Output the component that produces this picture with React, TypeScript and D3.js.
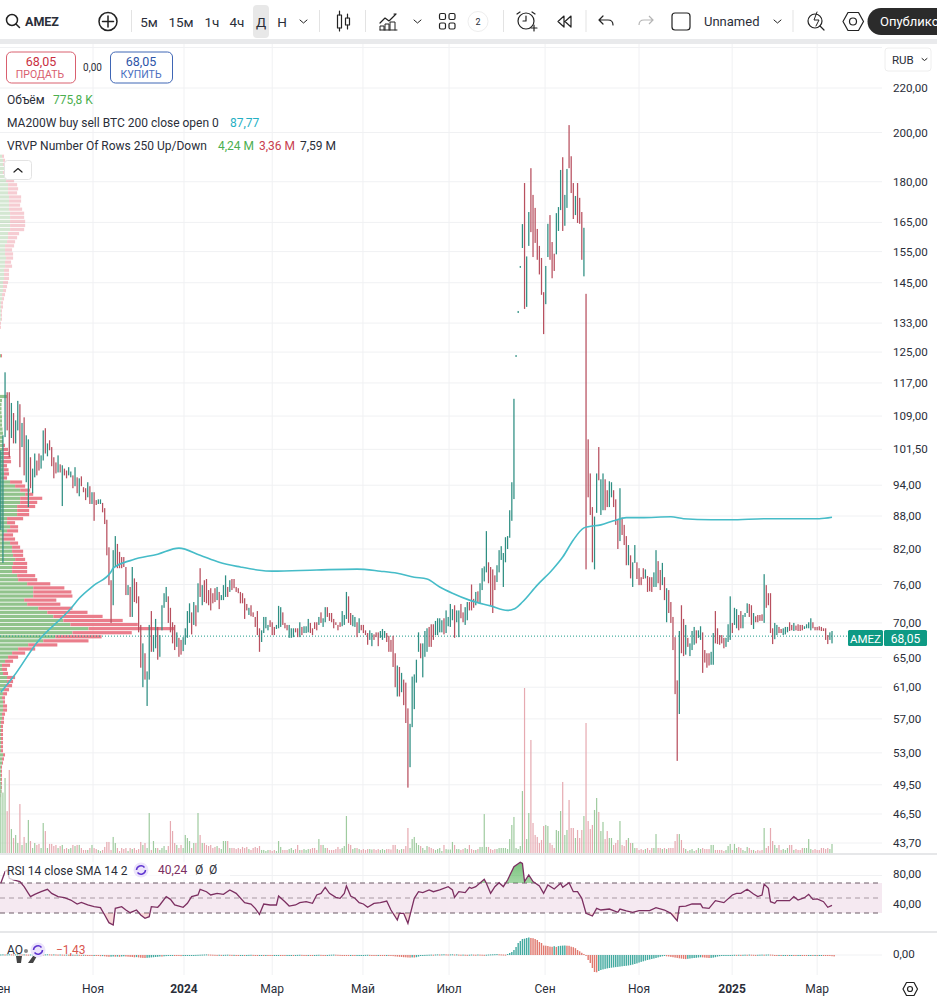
import React from "react";
import * as d3 from "d3";

// ---- price bars (RUB), one entry per trading day ----
const highs = [
101.3,104.6,119.7,114.7,114.7,112.1,109.7,108,112.6,111.8,
107.4,108.7,104.6,103.7,99.8,97.4,100.6,99.1,100.6,100.2,
105.7,106.2,102.8,103.5,102,99.8,98.7,100.2,98.3,98.1,
97.4,97,97.7,96.8,96,97.7,95.6,95.4,95.8,93.6,
93.4,94.6,93.8,92.6,92.6,91.05,91.2,91.2,90.5,89.5,
87.3,82.3,76.7,81.8,84.3,82.9,81.5,80.6,80.6,78.9,
75.9,75.6,78.9,77,76.4,74.1,69.7,67,65.6,63.1,
69.7,71.8,68.2,70.6,69.4,68.2,72.7,74.6,75.6,74.1,
72.3,70.1,69.7,68.6,67.8,67.5,67.9,69.2,71.8,73,
71.6,73.2,72.7,76.2,78.7,75.9,76.7,76.9,75.1,75.4,
74.6,75.4,75.6,74.8,74.3,75.9,77.5,75.6,76.7,76.9,
76.9,75.6,75.4,74.8,74.6,73.8,72.9,72.3,72.7,71.6,
70.9,71.8,69.2,68.9,70.9,70.9,69.7,70.4,70.1,69.4,
69.7,72.6,72.4,71.6,70,69.7,69.7,69.2,69.2,69.2,
69.2,70.1,69.4,69.5,69.5,70.6,70,69.2,70.1,70.1,
70.9,71.6,70.7,72.4,72.4,71.5,71.5,70.6,70.1,69.7,
70.1,71.8,71.2,74.8,74.1,71.5,71.2,70.9,70.1,70.7,
69.7,69.7,68.9,68.5,68.9,68.5,68.3,68.6,68.6,68.8,
69.1,68.8,68.5,68.1,67.5,68.1,65.6,63.9,63.7,62.9,
62,61.6,58.3,56.4,62.4,62.7,64.7,68.6,67,67,
68.8,69.2,69.4,69.8,69.8,70.3,70.7,70.7,70.4,70.7,71.9,
70.9,72.9,72.1,72.7,71.9,71.9,72.9,71.6,72.4,73.2,
73.2,76,73.7,74.8,74.9,76.2,78.7,79,85.2,79.7,
78.9,78.5,77.5,79.2,81.8,82.5,81.3,84.1,84.3,89.1,
94.6,113.1,124.2,136.5,150.3,164.4,179.5,153.4,168.7,185.3,
175,170.2,162.7,156.9,152.9,142.1,150.3,164.5,167.6,158.2,
154.3,168.3,170.5,184.6,189.7,175,185,203.2,190.1,179.5,
174.6,179.5,173.9,168.7,163.1,141.6,103.7,96.4,89.7,
87.9,96.4,102,95.2,96.4,95.2,93,94.8,94.6,93,
91.2,87.3,93.4,87.7,86.35,84.3,82.7,80.9,79.7,82.7,
79.7,78.7,77.2,78.7,78.5,77.4,77.2,77.2,78,81.8,
79.9,78.4,79.6,77.2,75.4,75.1,73.2,70.9,67.9,
61.9,68.8,72.7,70.6,69.7,67.8,67,68.8,69.4,68.9,
68.9,69.5,68.6,66.05,65.6,65.6,65.8,68.5,71.8,69.2,
68.2,68.2,67.8,67.8,69.8,74.1,70,72.3,72.1,71.2,
71.8,71.2,71.5,73,72.9,72.7,71.5,71,71.2,71.2,
71.3,77.7,75.9,74.6,74.6,69.2,70,69.7,69.4,69.1,
69.2,69.4,69.4,70.1,69.7,70,69.6,69.8,69.7,69.7,69.5,
69.8,70.1,70.7,70.1,69.4,69.4,69.5,69.4,69.2,69.2,
68.2,68.6,68.8];
const lows = [
85.4,79.6,104.2,105.7,99.8,104,102.8,102.8,105.7,97.7,
102,96,94.6,89.7,93.4,92.4,95.6,96,97,97.4,
99.1,100.6,100,101.3,97.9,95.4,96.4,96.6,96.6,89.9,
96,95.4,96,95.6,93.4,93.8,92.4,91.8,93.8,92.6,
91.05,91.6,90.3,90.3,87.1,90.1,90.3,90.3,88.7,86.5,
80.9,75.9,70,72.7,78.9,78.7,78.7,78.7,78.9,74.3,
74.3,70.9,70.9,73.2,73,68.6,63.6,61,62,58.6,
62,65.8,65.8,66.3,64.7,65.1,68.9,72.3,73.2,70,
68.6,67,66.05,66.5,65.1,65.4,65.9,66.8,67.8,70,
68.3,69.7,69.5,71.6,74,72.7,73.2,73,72.7,71.9,
73,73.2,73.5,72.1,73.5,73.5,74,74,74.8,75.1,
75.4,74.8,74.6,73,73,70.6,71.9,71.2,71,70.9,
69.4,68.2,65.8,67.2,68.5,69.2,68.9,69.4,68.2,68.2,
69.1,69.2,69.4,69.7,69.2,68.9,67.8,67.8,67.9,68.6,
67.9,67.9,68.2,68.5,68.5,68.6,68.5,68.2,69.1,68.9,
69.7,70,69.4,70.1,70.9,70.3,70.1,69.2,69.7,68.9,
69.4,69.5,69.7,70.6,70,69.7,69.5,69.4,67.9,68.5,
68.9,68.5,68.2,66.8,67.5,66.6,67.5,67.9,66.6,67.8,
67.5,67.8,67.2,65.8,65.8,63.7,61,59.8,59.8,60.35,
58.7,56.5,49.2,51.4,56,58.2,61.6,65.8,64.9,62.3,
65.1,65.8,66.5,66.5,67.5,68.2,68.2,68.6,68.6,68.3,68.5,
69.5,69.4,70.4,67.8,70.1,67.9,70.7,70.1,69.7,70.4,
71.9,71.9,72.3,72.7,73.2,73,75.1,76.5,78,76.2,
72.6,71.5,75.1,76.4,78,80.1,75.6,79.7,82,84,
87.1,91.25,123.7,135.9,149.7,156.2,137.1,137.7,156.9,161.6,
153.2,157.9,152.3,147.6,141.3,129.9,138.5,153.2,152.3,146.4,
148.7,154.1,162,169.4,162,163.8,170.2,185.3,175.7,166.2,
167.6,164.8,164.5,152.3,147,78.5,91.6,88.2,79.7,
78.5,88.6,95,88.2,89.1,89.1,89.7,89.7,91.6,89.7,
86.35,82,83.4,84.5,82.7,79.2,79.2,77,75.6,79.6,
76.9,75.9,75.9,76.9,77,74.8,74.9,74.8,75.6,75.6,
76.2,75.1,75.9,73.5,70.1,71.5,70,66.05,60.1,
52.1,57.6,65.6,65.2,65.4,66.5,65.2,66.05,66.8,67,
67.8,67.5,62.9,64.3,63.6,63.9,64,64,67,66.9,
66.8,67,66.3,66.5,67.2,67.5,68.5,69.7,69.2,68.9,
69.2,69.2,70.9,71.5,70.9,69.7,69.1,70.1,70.1,70.3,
70.3,70,72.3,72.7,68.5,66.9,67.6,68.2,68.5,68.5,
68.2,68.3,68.6,68.8,68.9,68.8,68.9,68.8,68.8,68.9,69.1,
69.2,69.2,68.9,69.2,68.9,68.9,68.9,68.8,68.8,67.5,
66.9,67.5,67];
const dirRows = [
"uuudduduud","uduuduuddu","ududdddudu","dduudududd","dududduudd",
"ddduuddddd","ududdddudu","uduuduuuud","dddudduuuu","dudududddd",
"dduduuudud","dddddddudd","ddduuuuddd","uuuddduuud","duduuudddd",
"uduudddddd","duuudduudu","dddduudddu","uudddddudu","ddduuuuudu",
"uuddduuuudu","uuuduudduu","ddduduuuud","ddduuuuuuu","uuuuuuduud",
"dddddduudd","duuuduuddd","udddudddd","uuduudduud","ddudddudu"+"u",
"ddddudddu"+"u","ddududddd","duddud"+"uuud","uu"+"dddd"+"uu"+"dd","ddd"+"uuu"+"d"+"uu"+"d",
"d"+"uuu"+"dd"+"u"+"ddd","d"+"u"+"dddd"+"uu"+"dd","uuu"+"dd"+"u"+"dddd"+"u","uuu"+"ddddddd","duu"
];
const dirs = dirRows.join("");

// ---- volume, in units of 100 000 shares ----
const volumes = [
60,52,64.5,36,71.4,20.6,12.9,15.5,8.6,42.1,
6.9,13.8,8.6,28.4,10.3,4.3,8.6,6.9,7.8,4.3,
25.8,18.9,4.3,7.8,7.8,6,6.9,4.3,6,6.9,
3.4,4.3,3.4,4.3,6.9,6,6.9,6.9,4.3,2.6,
2.6,2.6,4.3,6.9,4.3,3.4,2.6,1.7,2.6,5.2,
9.5,9.5,2.6,13.8,8.6,4.3,1.7,4.3,3.4,4.3,
1.7,4.3,3.4,4.3,2.6,3.4,9.5,6.9,8.6,4.3,
34.4,2.6,10.3,4.3,4.3,2.6,4.3,6,2.6,6,
27.5,18.9,8.6,6.9,4.3,6.9,4.3,15.5,12.9,10.3,
4.3,8.6,8.6,34.4,15.5,8.6,8.6,6.9,6,6.9,
4.3,5.2,6,4.3,3.4,10.3,10.3,10.3,4.3,4.3,
4.3,3.4,4.3,3.4,5.2,4.3,5.2,3.4,2.6,4.3,
5.2,4.3,6,2.6,2.6,1.7,2.6,2.6,1.7,2.6,
1.7,10.3,5.2,2.6,2.6,2.6,3.4,4.3,2.6,3.4,
6.9,2.6,2.6,3.4,2.6,3.4,3.4,4.3,4.3,2.6,
12,6.9,6.9,4.3,4.3,2.6,2.6,2.6,3.4,5.2,
3.4,4.3,6,31.8,7.8,6.9,3.4,4.3,4.3,3.4,
2.6,3.4,2.6,3.4,3.4,3,3.4,2.6,3.4,2.6,
3.4,2.6,3.4,3.4,3,6.9,6.9,3.4,2.6,3.4,
3.4,6,21.5,4.3,12,13.8,8.6,6.9,6,4.3,
2.6,6,5.2,4.3,3.4,2.6,3.4,4.3,1.7,6.9,
3.4,3,3,9.5,6.9,3.4,3.4,2.6,3.4,4.3,3.4,
6.9,3.4,2.6,2.6,3.4,5.2,5.2,33.5,
5.2,5.2,3.4,2.6,3.4,3.4,4.3,4.3,4.3,4.3,3.4,
12,24.1,31,4.3,3.4,6,53.3,141.9,12,34.4,97.2,25.8,15.5,13.8,8.6,11.2,23.2,24.1,23.2,8.6,
6.9,4.3,19.8,18.9,36.1,61.1,15.5,19.8,45.6,21.5,
21.5,12.9,19.8,12.9,19.8,31.8,111.8,27.5,20.6,24.1,
37,47.3,35.3,18.9,26.7,12,18.9,12.9,12.9,6.9,
8.6,11.2,27.5,6.9,6,11.2,12.9,8.6,8.6,4.3,
4.3,2.6,3.4,2.6,3.4,4.3,2.6,4.3,4.3,16.3,
4.3,4.3,3.4,4.3,3.4,4.3,4.3,4.3,10.3,16.3,
16.3,11.2,4.3,3.4,1.7,2.6,3.4,1.7,2.6,4.3,
3.4,4.3,3.4,3.4,3.4,6.9,6.9,2.6,2.6,2.6,
2.6,1.7,2.6,6,7.8,2.6,7.8,4.3,5.2,4.3,
2.6,1.7,5.2,4.3,2.6,2.6,1.7,2.6,2,2.6,
21.5,4.3,6,21.5,10.3,6.9,4.3,6.9,2.6,3.4,
2.6,4.3,6.9,6.9,2.6,3.4,2.6,2.6,4.3,4.3,
4.3,12,3.4,2.6,3.4,2.6,2.6,4.3,4.3,3.4,
4.3,3.4,7.76];

// ---- MA200W ----
const maBars = [0,6,17,33,37,44,52,53,62,74,84,94,103,113,121,128,149,168,179,187,195,201,207,213,221,231,239,242,246,253,260,265,270,275,277,283,289,295,302,316,322,335,344,361,377,386,392];
const maValues = [60.35,62.4,67.1,72.2,73.8,75.9,78.1,78.7,80.1,81.1,82.15,80.9,79.7,78.9,78.4,78.2,78.4,78.55,78.2,77.85,77.2,76.9,75.6,74.6,73.5,72.6,71.9,72.1,73.2,75.9,78.4,80.6,83.6,85.8,86,86.35,87.1,87.7,87.7,87.85,87.5,87.3,87.3,87.5,87.5,87.5,87.77];

// ---- RSI ----
const rsiBars = [0,2,3,4,6,9,11,13,14,16,19,22,24,27,30,33,36,38,41,44,47,49,51,53,54,57,59,61,64,66,68,70,71,74,75,78,80,82,86,88,90,93,94,97,99,102,105,108,111,115,118,120,122,124,127,130,131,134,136,139,141,144,147,149,151,153,155,158,160,162,163,165,167,169,171,173,176,179,182,184,187,188,190,192,195,197,199,202,204,207,211,213,214,216,219,221,222,224,228,229,231,233,235,237,239,242,245,246,247,249,251,254,256,258,261,264,265,268,270,272,274,276,279,281,283,287,291,292,295,298,301,306,309,313,316,319,320,323,326,330,331,334,337,341,345,347,349,352,355,357,359,360,362,363,365,366,372,374,376,379,381,383,385,388,390,392];
const rsiValues = [69.6,85.1,87.3,76.2,74,71.8,65.1,56.2,51.8,54.9,58.4,61.6,56.2,51.8,50.4,47.3,42,44.2,40.7,38.4,37.1,27.3,17.1,14,36.2,38.4,34,30.4,34,27.3,22.9,25.1,38.4,37.6,40.7,51.8,48.2,40.7,37.6,42.9,51.8,54,61.6,58.4,54,56.2,54.9,60.7,56.2,43.8,42,36.2,28.2,42,40.7,40.7,52.7,45.1,39.3,40.7,43.8,45.1,42.9,54,56.2,64.2,56.2,50.9,49.6,56.2,66,52.7,49.6,43.8,42,37.6,42.9,43.8,46,34,20.7,29.6,29.6,16.2,49.6,58.4,57.1,60.7,58.4,60.7,65.1,60.7,50.9,58.4,57.1,64.2,62.9,65.1,74.9,69.6,56.2,65.1,70.4,65.1,74,91.8,97.6,96.2,71.8,80.7,71.8,66,56.2,67.3,62,69.6,64.2,70.4,58.4,58.4,49.6,29.6,26,36.2,34,35.3,30.9,35.3,32.7,30.9,33.1,33.1,37.1,34,29.6,19.8,38.4,39.3,42,42,37.1,36.2,46.4,43.8,54,56.2,56.2,61.6,55.3,51.8,54,68.7,62.9,45.1,42.9,46.4,46.4,51.8,47.3,50.4,54.9,48.2,48.7,45.1,37.6,40.24];

// ---- Awesome Oscillator ----
const aoValues = [
.5,.6,.5,.6,.7,.6,.5,.6,.7,.6,
.5,.6,.5,.4,.5,.6,.5,.4,.5,.6,
.5,.6,.7,.6,.5,.6,.5,.4,.5,.4,
.3,.4,.3,.2,.3,.2,.3,.2,.1,.2,
.1,-.2,-.6,-.8,-.7,-.9,-1,-1.2,-1.1,-1.3,
-1.6,-1.8,-1.7,-1.5,-1.7,-1.6,-1.8,-1.5,-1.3,-1.5,
-1.7,-1.9,-2,-2.3,-2.1,-2.4,-2.7,-2.9,-3,-2.8,
-2.6,-2.4,-2.2,-2,-1.8,-1.5,-1.6,-1.3,-1.1,-.9,
-.7,-.6,-.8,-.9,-1,-1.1,-.9,-.7,-.5,-.4,
-.3,-.2,.1,.2,.3,.4,.5,.6,.5,.4,
.3,.2,.1,.2,.1,.1,.2,.3,.2,.1,
.1,-.2,-.3,-.2,-.1,-.2,-.1,.1,.2,.1,
-.1,-.3,-.2,-.1,-.3,-.2,-.4,-.6,-.8,-.5,
-.3,-.2,-.3,-.4,-.6,-.5,-.3,-.2,-.3,-.1,
.1,.2,.1,-.1,-.2,-.1,-.2,-.3,-.1,.1,
.2,.1,-.1,-.2,-.1,.2,.3,.4,.3,.2,
.1,-.2,-.4,-.6,-.7,-.5,-.8,-.9,-.7,-.6,
-.3,-.1,.1,.2,.1,-.1,-.2,-.4,-.3,-.5,
-.7,-.8,-.6,-.9,-1,-1.1,-1.4,-1.6,-1.8,-2,
-2.2,-2.3,-2.5,-2.6,-2.4,-2.5,-2.2,-1.6,-.9,-.3,
.1,.2,.3,.4,.3,.5,.6,.5,.6,.7,
.6,.5,.6,.7,.5,.6,.4,.3,.4,.3,.2,
.3,.5,.4,.3,.5,.4,.3,.2,
.3,.5,.6,.7,.8,.9,.7,.6,.5,.4,1,
2,3,5,8,12,14,16,16.3,17,17.5,17,16.8,16,15,13,12,9.5,9.3,9,8.4,
8.2,8.8,8.1,8.9,9.2,9.4,9.5,9.3,9.2,8.3,
7.8,6.8,5,3.7,2.2,1,-.5,-5,-8,-13,
-17,-17.3,-16,-15,-14.4,-13.9,-13.4,-13,-12.7,-12.4,
-12.1,-11.9,-11.6,-11.3,-11,-10.8,-10.5,-10.1,-9.6,-9,
-8.4,-7.6,-6.9,-6.3,-5.6,-5,-4.5,-4,-3.5,-3,
-2.4,-1.8,-1.3,-1,-1.3,-1.5,-1.9,-2.2,-2.6,-2.9,
-3.3,-3.6,-3.9,-4.1,-3.8,-3.5,-3.2,-3,-2.8,-2.5,
-2.3,-2.4,-2.6,-2.8,-3,-2.9,-2.6,-2.2,-1.6,-1.2,
-.9,-.7,-.5,-.3,-.2,.1,.2,.1,.2,.1,
.2,.3,.2,.4,.3,.2,.1,.2,.3,.4,
.3,.4,.5,.4,.3,-.1,-.3,-.2,-.4,-.3,
-.2,-.4,-.3,-.2,-.3,-.4,-.3,-.2,-.4,-.5,
-.6,-.5,-.4,-.5,-.4,-.6,-.5,-.4,-.7,-.8,
-.9,-1,-1.2,-1.43];

// ---- VRVP rows: traded volume by price row, top row first ----
const vrvpUp = [
2,3,3,4,3,5,6,8,8,8,9,9,9,9,10,10,10,10,10,8,8,7,5,5,5,6,5,5,4,4,4,3,3,3,2,2,1,1,1,1,1,0,0,0,0,0,0,0,0,1,
0,0,0,0,0,0,0,0,0,7,2,1.5,1.5,1.5,2,2,2,2.5,3,3,3,3,3,3,3.5,3,3,3.5,4,3,10,15,20,25,20,20,17,17,17,7,
7,10,7,3,2,10,12,12,13,15,13,12,12,17,18,27,33,33,33,24,27,38,47,53,63,70,88,72,55,43,28,18,12,8,5,2,2,3,7,7,
5,4,3,2,3,3,3,2,2,1,1,1,1,1,1,1,1,3,2,2,1,1,1,1,1,1,1,.5];
const vrvpDown = [
2,2,3,3,3,5,8,9,10,9,12,12,11,13,14,14,15,15,14,11,9,8,9,7,8,7,6,7,5,5,5,5,4,3,3,2,2,2,1,1,1,1,1,0,0,0,0,0,0,1,
0,0,0,0,0,0,0,0,0,0,0,0,0,0,0,0,0,0,0,0,0,2,5,6,7,8,4,5,5,4,12,10,10,8,22,17,18,12,12,16,
8,8,11,10,13,8,8,11,10,10,14,15,15,18,19,23,31,38,39,32,33,34,40,49,59,67,85,59,46,45,29,17,13,10,8,8,5,5,8,6,
7,5,4,3,2,4,4,3,2,3,2,2,2,2,2,2,2,2,2,1,1,1,1,1,1,1,.5,.5];
const vrvpTopPrice = 190.1;
const vrvpRowRatio = 0.99132;

// ---- axes ----
const priceTicks = [220,200,180,165,155,145,133,125,117,109,101.5,94,88,82,76,70,65,61,57,53,49.5,46.5,43.7];
const timeTicks = [-0.4,43.5,86.4,128,170.8,211.4,256.7,301,344.9,385];
const timeLabels = ["Сен","Ноя","2024","Мар","Май","Июл","Сен","Ноя","2025","Мар"];
const lastPrice = 68.05;
const rsiTicks = [80,40];
const rsiBands = [70,50,30];

// ---- scales ----
const x = d3.scaleLinear().domain([0, 392]).range([0.8, 832]);
const y = d3.scaleLog().domain([43.7, 220]).range([843, 88]);
const yVol = d3.scaleLinear().domain([0, 141.9]).range([853, 688]);
const yRsi = d3.scaleLinear().domain([30, 70]).range([913, 883]);
const yAo = d3.scaleLinear().domain([-17.3, 17.5]).range([972.3, 937.5]);
const vrvpMax = d3.max(vrvpUp.map((v, i) => v + vrvpDown[i])) as number;
const xVrvp = d3.scaleLinear().domain([0, vrvpMax]).range([0, 174]);

const fmt = (v: number) => d3.format(".2f")(v).replace(".", ",");
const UP = "#2f8f83";
const DOWN = "#b8505f";
const FONT = "Roboto, 'Noto Sans', sans-serif";
const INK = "#2a2e39";

const maSeries = maBars.map((b, i) => [b, maValues[i]] as [number, number]);
const rsiSeries = rsiBars.map((b, i) => [b, rsiValues[i]] as [number, number]);
const maPath = d3.line<[number, number]>().x(d => x(d[0])).y(d => y(d[1])).curve(d3.curveMonotoneX)(maSeries) as string;
const rsiPath = d3.line<[number, number]>().x(d => x(d[0])).y(d => yRsi(d[1]))(rsiSeries) as string;
const rsiOver = d3.area<[number, number]>().x(d => x(d[0])).y0(yRsi(70)).y1(d => yRsi(d[1]))(rsiSeries) as string;
const rsiUnder = d3.area<[number, number]>().x(d => x(d[0])).y0(yRsi(30)).y1(d => yRsi(d[1]))(rsiSeries) as string;

const T = (p: any) => <text fontFamily={FONT} fill={INK} dominantBaseline="central" {...p} />;
const stroke = { fill: "none", stroke: "#222", strokeWidth: 1.2, strokeLinecap: "round", strokeLinejoin: "round" } as any;

function Toolbar() {
  return (
    <g>
      <rect x={0} y={0} width={937} height={39} fill="#fff" />
      <rect x={0} y={39} width={937} height={5} fill="#e9eaec" />
      <g {...stroke} strokeWidth={1.5}>
        <circle cx={12} cy={20} r={5.5} /><path d="M16 24l3.5 3.5" />
        <circle cx={108} cy={21.5} r={9} /><path d="M108 16v11M102.5 21.5h11" />
      </g>
      <T x={25} y={21.5} fontSize={12.5} fontWeight={700}>AMEZ</T>
      <rect x={253} y={5} width={16} height={33} rx={4} fill="#e8e8e8" />
      {[["5м",149],["15м",181],["1ч",212],["4ч",237],["Д",261],["Н",282]].map(([t, px]) => (
        <T key={t as string} x={px} y={21.5} fontSize={13.5} textAnchor="middle">{t}</T>
      ))}
      <g {...stroke} strokeWidth={1}>
        <path d="M300 20l3.5 3 3.5-3M414 20l3.5 3 3.5-3M774 20l3.5 3 3.5-3" />
      </g>
      <g stroke="#e3e3e3"><path d="M131.5 10v22M319.5 10v22M365.5 10v22M503.5 10v22M586 10v22M793 10v22" /></g>
      <g {...stroke}>
        <rect x={337.5} y={15} width={4} height={13} /><path d="M339.5 11v4M339.5 28v3" />
        <rect x={345.5} y={18} width={4} height={7} /><path d="M347.5 14v4M347.5 25v4" />
        <path d="M380 23l5-5 4 3 7-7M396 14h-2" />
        <path d="M380 30h17M380 30v-4h4v4M385 30v-6h4v6M390 30v-8h5v8" strokeWidth={1} />
        <rect x={439.5} y={13.5} width={6} height={6} rx={1.5} /><rect x={449} y={13.5} width={6} height={6} rx={1.5} />
        <rect x={439.5} y={23} width={6} height={6} rx={1.5} /><rect x={449} y={23} width={6} height={6} rx={1.5} />
        <circle cx={526} cy={21} r={8} /><path d="M526 16v5h-3M517 14l3-2M535 14l-3-2M531 28h6M534 25v6" />
        <path d="M564 16l-6 5.5 6 5.5zM571 16l-6 5.5 6 5.5z" />
        <path d="M603 16l-4 4 4 4M599 20h9c3 0 5 2 5 5" />
        <rect x={672} y={13} width={18} height={17} rx={3} />
        <circle cx={815} cy={21} r={7} /><path d="M820 26l4 4" />
        <path d="M817 12l-3 8h5l-3 6" strokeWidth={1} />
        <path d="M843 21.5l5-9h10.5l5 9-5 9h-10.5z" /><circle cx={853} cy={21.5} r={3.5} />
      </g>
      <path d="M649 16l4 4-4 4M653 20h-9c-3 0-5 2-5 5" fill="none" stroke="#b5b5b5" strokeWidth={1.2} />
      <circle cx={478} cy={21.5} r={10} fill="#fff" stroke="#eee" />
      <T x={478} y={22} fontSize={9} textAnchor="middle">2</T>
      <T x={704} y={21.5} fontSize={13}>Unnamed</T>
      <path d="M881 8h56v27h-56a13.5 13.5 0 0 1 0-27z" fill="#2b2b2b" />
      <T x={880} y={21.5} fontSize={13} fill="#fff">Опублико</T>
    </g>
  );
}

function Overlays() {
  const green = "#4caf50", red = "#c8404f";
  return (
    <g>
      <rect x={6.5} y={52} width={69} height={31} rx={5} fill="#fff" stroke="#d9606f" />
      <T x={41} y={61} fontSize={12.5} textAnchor="middle" fill="#c9303f">68,05</T>
      <T x={40} y={74} fontSize={10.5} textAnchor="middle" fill="#d9606f">ПРОДАТЬ</T>
      <T x={92.5} y={67} fontSize={10} textAnchor="middle">0,00</T>
      <rect x={110.5} y={52} width={62} height={31} rx={5} fill="#fff" stroke="#3f66b5" />
      <T x={141} y={61} fontSize={12.5} textAnchor="middle" fill="#2d55a8">68,05</T>
      <T x={141} y={74} fontSize={10.5} textAnchor="middle" fill="#4a6fbf">КУПИТЬ</T>
      <T x={7} y={100} fontSize={12}>Объём</T>
      <T x={53} y={100} fontSize={12} fill={green}>775,8 K</T>
      <T x={7} y={123} fontSize={12}>MA200W buy sell BTC 200 close open 0</T>
      <T x={230} y={123} fontSize={12} fill="#26b0c4">87,77</T>
      <T x={7} y={146} fontSize={12}>VRVP Number Of Rows 250 Up/Down</T>
      <T x={218} y={146} fontSize={12} fill={green}>4,24 M</T>
      <T x={259} y={146} fontSize={12} fill={red}>3,36 M</T>
      <T x={300} y={146} fontSize={12}>7,59 M</T>
      <rect x={4.5} y={160.5} width={27} height={19} rx={3} fill="#fff" stroke="#e3e3e3" />
      <path d="M14 172l4-3.5 4 3.5" {...stroke} />
      <rect x={885} y={48} width={46} height={23} rx={3} fill="#fff" stroke="#eee" />
      <T x={892} y={59.5} fontSize={11.5}>RUB</T>
      <path d="M922 58.5l2.5 2 2.5-2" {...stroke} strokeWidth={1} />
    </g>
  );
}

export default function App() {
  return (
    <svg width={937} height={1000} viewBox="0 0 937 1000" style={{ position: "absolute", left: 0, top: 0, background: "#fff" }}>
      <defs>
        <clipPath id="main"><rect x={0} y={44} width={882} height={809} /></clipPath>
        <clipPath id="over"><rect x={450} y={856} width={432} height={yRsi(70) - 856} /></clipPath>
        <clipPath id="under"><rect x={0} y={yRsi(30)} width={882} height={18} /></clipPath>
        <linearGradient id="gOver" x1="0" y1="0" x2="0" y2="1">
          <stop offset="0" stopColor="#4caf50" stopOpacity={0.75} /><stop offset="1" stopColor="#4caf50" stopOpacity={0.02} />
        </linearGradient>
        <linearGradient id="gUnder" x1="0" y1="0" x2="0" y2="1">
          <stop offset="0" stopColor="#e57373" stopOpacity={0.02} /><stop offset="1" stopColor="#e57373" stopOpacity={0.3} />
        </linearGradient>
      </defs>

      {/* grid */}
      <g stroke="#f0f1f3">
        <line x1={0} x2={882} y1={47.5} y2={47.5} />
        {priceTicks.map(t => <line key={t} x1={0} x2={882} y1={y(t)} y2={y(t)} />)}
        {timeTicks.slice(1).map(t => <line key={t} x1={x(t)} x2={x(t)} y1={44} y2={975} />)}
        {rsiTicks.map(t => <line key={t} x1={0} x2={882} y1={yRsi(t)} y2={yRsi(t)} />)}
        <line x1={0} x2={882} y1={yAo(0)} y2={yAo(0)} />
      </g>

      <g clipPath="url(#main)">
        {/* volume profile */}
        {vrvpUp.map((u, i) => {
          const ry = y(vrvpTopPrice * Math.pow(vrvpRowRatio, i));
          const o = i < 45 ? 0.35 : 0.9;
          return (
            <g key={i} opacity={o}>
              <rect x={0} y={ry - 1.6} width={xVrvp(u)} height={3.2} fill="#86bd80" />
              <rect x={xVrvp(u)} y={ry - 1.6} width={xVrvp(vrvpDown[i])} height={3.2} fill="#e8707f" />
            </g>
          );
        })}
        {/* volume */}
        {volumes.map((v, i) => (
          <rect key={i} x={x(i) - 0.6} y={yVol(v)} width={1.2} height={853 - yVol(v)} fill={dirs[i] === "u" ? "#9fcb9f" : "#e6aab1"} />
        ))}
        {/* price */}
        <line x1={0} x2={848} y1={y(lastPrice)} y2={y(lastPrice)} stroke="#1b9a88" strokeDasharray="1 2" />
        {highs.map((h, i) => (
          <rect key={i} x={x(i) - 0.62} y={y(h)} width={1.25} height={Math.max(1, y(lows[i]) - y(h))} fill={dirs[i] === "u" ? UP : DOWN} />
        ))}
        <path d={maPath} fill="none" stroke="#46bcc8" strokeWidth={1.6} />
      </g>

      {/* RSI */}
      <rect x={0} y={yRsi(70)} width={882} height={yRsi(30) - yRsi(70)} fill="#f5e9f1" />
      <g stroke="#6d5a66" strokeDasharray="5 4">
        {rsiBands.map(t => <line key={t} x1={0} x2={882} y1={yRsi(t)} y2={yRsi(t)} opacity={t === 50 ? 0.55 : 1} />)}
      </g>
      <path d={rsiOver} clipPath="url(#over)" fill="url(#gOver)" />
      <path d={rsiUnder} clipPath="url(#under)" fill="url(#gUnder)" />
      <path d={rsiPath} fill="none" stroke="#7c2f61" strokeWidth={1.3} />

      {/* AO */}
      {aoValues.map((v, i) => {
        const top = Math.min(yAo(v), yAo(0));
        const rising = i === 0 || v >= aoValues[i - 1];
        return <rect key={i} x={x(i) - 0.7} y={top} width={1.4} height={Math.max(1, Math.abs(yAo(v) - yAo(0)))} fill={rising ? "#43aaa0" : "#e0796f"} />;
      })}

      {/* pane separators */}
      <rect x={0} y={853} width={937} height={2} fill="#e6e7e9" />
      <rect x={0} y={931} width={937} height={2} fill="#e6e7e9" />

      {/* legends in lower panes */}
      <rect x={5} y={862} width={225} height={18} fill="#fff" opacity={0.72} />
      <T x={7} y={871} fontSize={12}>RSI 14 close SMA 14 2</T>
      <circle cx={141} cy={870} r={7.5} fill="#ece4fb" />
      <path d="M136.5 870a4.5 4.5 0 0 1 8-2.5M145.5 870a4.5 4.5 0 0 1-8 2.5" fill="none" stroke="#5e35d0" strokeWidth={1.5} />
      <T x={158} y={870} fontSize={12} fill="#7c2f61">40,24</T>
      <T x={195} y={870} fontSize={12}>Ø</T>
      <T x={209} y={870} fontSize={12}>Ø</T>
      <T x={7} y={950} fontSize={12}>AO</T>
      <circle cx={26} cy={951} r={2} fill="#888" />
      <path d="M16 956h6l-1 7h-4zM28 963l5-7h4l-4 7z" fill="#444" />
      <circle cx={38} cy={950} r={7.5} fill="#ece4fb" />
      <path d="M33.5 950a4.5 4.5 0 0 1 8-2.5M42.5 950a4.5 4.5 0 0 1-8 2.5" fill="none" stroke="#5e35d0" strokeWidth={1.5} />
      <T x={56} y={950} fontSize={12} fill="#d9584f">−1,43</T>

      <Toolbar />
      <Overlays />

      {/* price axis */}
      {priceTicks.map(t => <T key={t} x={893} y={y(t)} fontSize={11.6}>{fmt(t)}</T>)}
      <rect x={848} y={630} width={35} height={16} rx={1.5} fill="#0e9a84" />
      <rect x={884} y={630} width={43} height={16} rx={1.5} fill="#0e9a84" />
      <T x={865.5} y={638.5} fontSize={11.5} fill="#fff" textAnchor="middle">AMEZ</T>
      <T x={905.5} y={638.5} fontSize={12} fill="#fff" textAnchor="middle">{fmt(lastPrice)}</T>
      {rsiTicks.map(t => <T key={t} x={893} y={yRsi(t) - 2} fontSize={11.6}>{fmt(t)}</T>)}
      <T x={893} y={954} fontSize={11.6}>{fmt(0)}</T>

      {/* time axis */}
      {timeLabels.map((l, i) => (
        <T key={i} x={x(timeTicks[i])} y={989} fontSize={12} textAnchor="middle" fontWeight={/^\d/.test(l) ? 700 : 400}>{l}</T>
      ))}
      <path d="M903 989l3.5-6.5h7.5l3.5 6.5-3.5 6.5h-7.5z" {...stroke} />
      <circle cx={910} cy={989} r={2.5} {...stroke} />
    </svg>
  );
}
